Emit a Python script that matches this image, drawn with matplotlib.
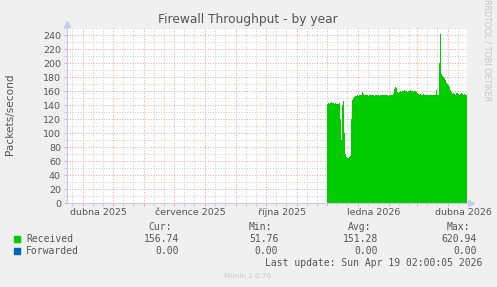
#!/usr/bin/env python3

import numpy as np
import pandas as pd
import matplotlib
matplotlib.use("Agg")
import matplotlib.pyplot as plt
import matplotlib.dates as mdates
from matplotlib.transforms import blended_transform_factory

# ==========================================================
# DATA
# ==========================================================

T_START = pd.Timestamp("2025-03-15 02:00")
T_END = pd.Timestamp("2026-04-19 02:00")
DATA_START = pd.Timestamp("2025-12-01")

# daily averages of received packets/s, from 1 Dec 2025
received = [
    142, 143, 142, 143, 144, 143, 143, 142, 143, 142,
    141, 142, 143, 120, 90, 140, 146, 100, 70, 66,
    65, 65, 66, 67, 120, 148, 150, 152, 153, 153,
    154, 153, 154, 154, 155, 159, 156, 154, 154, 155,
    154, 153, 154, 154, 155, 154, 154, 153, 154, 155,
    154, 154, 153, 154, 154, 155, 154, 154, 155, 154,
    154, 153, 154, 155, 154, 154, 156, 163, 166, 164,
    159, 158, 159, 160, 159, 160, 160, 161, 160, 160,
    159, 160, 160, 161, 160, 160, 159, 160, 160, 159,
    158, 156, 155, 156, 155, 155, 156, 155, 155, 154,
    154, 154, 155, 154, 154, 154, 155, 154, 154, 161,
    155, 154, 200, 242, 185, 182, 180, 179, 176, 171,
    170, 169, 166, 162, 159, 156, 157, 156, 155, 157,
    157, 156, 155, 156, 157, 156, 155, 156, 155, 155,
]
forwarded = [0.0] * len(received)

month_labels = [
    "dubna 2025", "července 2025", "října 2025", "ledna 2026", "dubna 2026",
]
label_months = ["2025-04-01", "2025-07-01", "2025-10-01", "2026-01-01", "2026-04-01"]

legend_names = ["Received", "Forwarded"]
legend_colors = ["#00CC00", "#0066B3"]
cur_vals = ["156.74", "0.00"]
min_vals = ["51.76", "0.00"]
avg_vals = ["151.28", "0.00"]
max_vals = ["620.94", "0.00"]

# ==========================================================
# STYLE
# ==========================================================

BG = "#F0F0F0"
TXT = "#555555"
AXIS = "#C8C8F0"
MAJOR = "#E8A8A8"
MINOR = "#D0D0D0"
DOTS = (0, (1, 1.6))

W, H = 497, 287

def fx(px):
    return px / W

def fy(py):
    return 1 - py / H

fig = plt.figure(figsize=(W / 100, H / 100), dpi=100, facecolor=BG)

left, right, top, bottom = 66.5, 466.5, 28, 203.3
ax = fig.add_axes([fx(left), fy(bottom), fx(right - left), (bottom - top) / H])
ax.set_facecolor("white")

days = pd.date_range(DATA_START, periods=len(received), freq="D")
x = mdates.date2num(days.to_pydatetime())
x = np.append(x, mdates.date2num(T_END.to_pydatetime()))
rec = np.append(received, received[-1])
fwd = np.append(forwarded, forwarded[-1])

ax.fill_between(x, 0, rec, step="post", color=legend_colors[0], lw=0, zorder=2)
ax.fill_between(x, rec, rec + fwd, step="post", color=legend_colors[1], lw=0, zorder=2)

ax.set_xlim(mdates.date2num(T_START.to_pydatetime()),
            mdates.date2num(T_END.to_pydatetime()))
ax.set_ylim(0, 250)

# ----------------------------------------------------------
# grid
# ----------------------------------------------------------

month_starts = pd.date_range("2025-04-01", "2026-04-01", freq="MS")
minor_days = []
for m in pd.date_range("2025-03-01", "2026-04-01", freq="MS"):
    for d in (11, 21):
        minor_days.append(m + pd.Timedelta(days=d - 1))
minor_days = [d for d in minor_days if T_START <= d <= T_END]

ax.set_xticks(mdates.date2num(month_starts.to_pydatetime()))
ax.set_xticks(mdates.date2num(pd.DatetimeIndex(minor_days).to_pydatetime()), minor=True)
ax.set_xticklabels([])
ax.set_yticks(np.arange(0, 241, 20))
ax.set_yticks(np.arange(10, 251, 20), minor=True)

ax.grid(which="major", color=MAJOR, lw=0.72, ls=DOTS, zorder=1)
ax.grid(which="minor", color=MINOR, lw=0.72, ls=DOTS, zorder=1)
ax.set_axisbelow(True)

ax.tick_params(axis="both", which="major", length=2, width=0.7, color=MAJOR,
               labelsize=6.8, labelcolor=TXT, pad=2)
ax.tick_params(axis="both", which="minor", length=2, width=0.7, color=MINOR)

for s in ("top", "right"):
    ax.spines[s].set_visible(False)
for s in ("left", "bottom"):
    ax.spines[s].set_color(AXIS)
    ax.spines[s].set_linewidth(0.8)
    ax.spines[s].set_zorder(3)

# axis arrows
ax.plot([1.01], [0], marker=">", ms=4, color=AXIS, transform=ax.transAxes,
        clip_on=False, zorder=4)
ax.plot([0], [1.02], marker="^", ms=4, color=AXIS, transform=ax.transAxes,
        clip_on=False, zorder=4)

# month labels centred in the middle of the month
tr = blended_transform_factory(ax.transData, ax.transAxes)
for lab, m in zip(month_labels, label_months):
    m0 = pd.Timestamp(m)
    mid = m0 + (m0 + pd.offsets.MonthBegin(1) - m0) / 2
    ax.text(mdates.date2num(mid.to_pydatetime()), -0.055, lab, transform=tr,
            ha="center", va="center", fontsize=6.8, color=TXT)

# ----------------------------------------------------------
# texts
# ----------------------------------------------------------

fig.text(fx(248), fy(19.5), "Firewall Throughput - by year",
         ha="center", va="center", fontsize=8.8, color=TXT)
fig.text(fx(10), fy(114), "Packets/second", rotation=90,
         ha="center", va="center", fontsize=7.6, color=TXT)
fig.text(fx(487), fy(101), "RRDTOOL / TOBI OETIKER", rotation=270,
         ha="center", va="bottom", fontsize=5.8, color="#C4C4C4")

mono = dict(family="DejaVu Sans Mono", fontsize=7, color=TXT, va="center")

cols = [(172, 179, "Cur:", cur_vals), (271.7, 278.3, "Min:", min_vals),
        (371, 377.7, "Avg:", avg_vals), (470, 476.7, "Max:", max_vals)]
for hx, vx, head, vals in cols:
    fig.text(fx(hx), fy(227.3), head, ha="right", **mono)
    for i, v in enumerate(vals):
        fig.text(fx(vx), fy(239.3 + 12 * i), v, ha="right", **mono)

for i, (name, col) in enumerate(zip(legend_names, legend_colors)):
    yy = 239.3 + 12 * i
    fig.patches.append(plt.Rectangle((fx(14), fy(yy + 3)), fx(6), 6 / H,
                                     transform=fig.transFigure, color=col))
    fig.text(fx(26.3), fy(yy), name, ha="left", **mono)

fig.text(fx(482.7), fy(263), "Last update: Sun Apr 19 02:00:05 2026",
         ha="right", **mono)
fig.text(fx(248), fy(276), "Munin 2.0.76", ha="center", va="center",
         fontsize=5.2, color="#C8C8C8")

fig.savefig("out.png", dpi=100, facecolor=BG)
